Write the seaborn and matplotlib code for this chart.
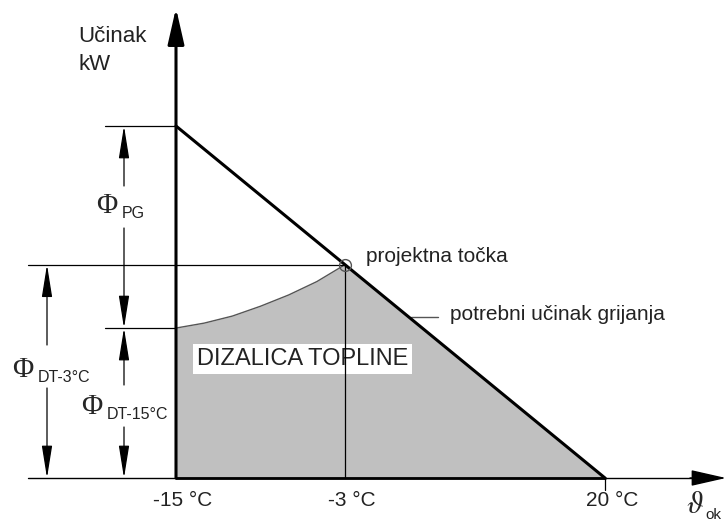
import numpy as np
import matplotlib
matplotlib.use("Agg")
import matplotlib.pyplot as plt
import seaborn as sns
import pandas as pd

# ============================
# DATA
# ============================
temp_ticks = [-15, -3, 20]
tick_labels = ["-15 °C", "-3 °C", "20 °C"]

# potrebni ucinak grijanja (kW) vs vanjska temperatura
demand_temp = [-15, -3, 20]
demand_kw = [10.0, 6.06, 0.0]

# ucinak dizalice topline (kW)
hp_temp = [-15, -13, -11, -9, -7, -5, -3]
hp_kw = [4.26, 4.40, 4.60, 4.88, 5.20, 5.58, 6.06]

# ============================
# LAYOUT (schematic, non-linear temperature axis)
# ============================
W, H = 726, 524
X_PIX = [176, 345, 605]          # where the three temperatures sit
Y_ZERO_PIX = 478
PX_PER_KW = 35.2

T_KNOTS = [-60] + temp_ticks + [80]
U_KNOTS = [176 - 45 * 169 / 12] + X_PIX + [605 + 60 * 260 / 23]


def fwd(t):
    return np.interp(np.asarray(t, float), T_KNOTS, U_KNOTS)


def inv(u):
    return np.interp(np.asarray(u, float), U_KNOTS, T_KNOTS)


def tx(xp):
    return float(inv(xp))


def ky(yp):
    return (Y_ZERO_PIX - yp) / PX_PER_KW


sns.set_style("white")
plt.rcParams["font.family"] = ["Liberation Sans", "DejaVu Sans"]
plt.rcParams["mathtext.fontset"] = "stix"

fig = plt.figure(figsize=(W / 100, H / 100), dpi=100)
ax = fig.add_axes([0, 0, 1, 1])
ax.set_xscale("function", functions=(fwd, inv))

df_dem = pd.DataFrame({"temp": demand_temp, "kw": demand_kw})
df_hp = pd.DataFrame({"temp": hp_temp, "kw": hp_kw})

# shaded area covered by the heat pump
fill_t = hp_temp + demand_temp[2:]
fill_k = hp_kw + demand_kw[2:]
ax.fill_between(fill_t, 0, fill_k, color="#c0c0c0", lw=0, zorder=1)

sns.lineplot(data=df_hp, x="temp", y="kw", color="#555555", lw=1.0,
             errorbar=None, legend=False, ax=ax, zorder=2)
sns.lineplot(data=df_dem, x="temp", y="kw", color="black", lw=2.2,
             errorbar=None, legend=False, ax=ax, zorder=5)

thin = dict(color="black", lw=0.9, zorder=4)
# horizontal guide lines
ax.plot([tx(105), demand_temp[0]], [demand_kw[0]] * 2, **thin)
ax.plot([tx(28), demand_temp[1]], [demand_kw[1]] * 2, **thin)
ax.plot([tx(105), hp_temp[0]], [hp_kw[0]] * 2, **thin)
# vertical at design temperature
ax.plot([demand_temp[1]] * 2, [0, demand_kw[1]], **thin)
# tick at 20 °C
ax.plot([demand_temp[2]] * 2, [0, ky(490)], **thin)

# x axis
ax.plot([tx(28), tx(700)], [0, 0], color="black", lw=1.0, zorder=4)
ax.plot([demand_temp[0], demand_temp[2]], [0, 0], color="black", lw=2.0, zorder=5)
ax.annotate("", xy=(tx(726), 0), xytext=(tx(690), 0),
            arrowprops=dict(arrowstyle="-|>,head_length=1.1,head_width=0.25",
                            color="black", lw=1.0, mutation_scale=20,
                            shrinkA=0, shrinkB=0), zorder=6)
# y axis
ax.annotate("", xy=(temp_ticks[0], ky(8)), xytext=(temp_ticks[0], 0),
            arrowprops=dict(arrowstyle="-|>,head_length=1.1,head_width=0.25",
                            color="black", lw=2.2, mutation_scale=20,
                            shrinkA=0, shrinkB=0), zorder=6)

# design point
ax.plot(demand_temp[1], demand_kw[1], marker="o", ms=8.5, mfc="none",
        mec="#555555", mew=1.0, zorder=6)


def dim_arrow(x, y_from, y_to):
    ax.annotate("", xy=(x, y_to), xytext=(x, y_from),
                arrowprops=dict(arrowstyle="-|>,head_length=1.0,head_width=0.16",
                                color="black", lw=0.9, mutation_scale=20,
                                shrinkA=0, shrinkB=0), zorder=6)


# dimension arrows
dim_arrow(tx(124), ky(186), demand_kw[0])
dim_arrow(tx(124), ky(228), hp_kw[0])
dim_arrow(tx(47), ky(345), demand_kw[1])
dim_arrow(tx(47), ky(388), 0)
dim_arrow(tx(124), ky(385), hp_kw[0])
dim_arrow(tx(124), ky(427), 0)


def phi_label(xp, yp, sub):
    ax.text(tx(xp), ky(yp), "Φ", family=["Liberation Serif", "DejaVu Serif"],
            fontsize=21, ha="left", va="baseline")
    ax.text(tx(xp + 26), ky(yp + 5), sub, fontsize=11.5, ha="left",
            va="baseline", color="#222222")


phi_label(96, 213, "PG")
phi_label(12, 377, "DT-3°C")
phi_label(81, 414, "DT-15°C")

# axis labels
ax.text(tx(78), ky(42), "Učinak", fontsize=16, ha="left", va="baseline", color="#222222")
ax.text(tx(78), ky(70), "kW", fontsize=16, ha="left", va="baseline", color="#222222")
ax.text(tx(686), ky(513), r"$\vartheta$", fontsize=22, ha="left", va="baseline")
ax.text(tx(705), ky(519), "ok", fontsize=11, ha="left", va="baseline", color="#222222")

for t, lab in zip(temp_ticks, tick_labels):
    ax.annotate(lab, xy=(t, ky(500)), xytext=(5, 0), textcoords="offset points",
                fontsize=15, ha="center", va="center", color="#222222")

# annotations
ax.text(tx(366), ky(262), "projektna točka", fontsize=15, ha="left",
        va="baseline", color="#222222")
ax.plot([tx(411), tx(438)], [ky(317)] * 2, color="#555555", lw=1.0, zorder=4)
ax.text(tx(450), ky(320), "potrebni učinak grijanja", fontsize=15, ha="left",
        va="baseline", color="#222222")
ax.text(tx(197), ky(359), "DIZALICA TOPLINE", fontsize=17, ha="left",
        va="center", color="#222222", zorder=3,
        bbox=dict(facecolor="white", edgecolor="none", pad=2.5))

ax.set_xlim(tx(0), tx(W))
ax.set_ylim(ky(H), ky(0))
ax.axis("off")

plt.savefig("out.png", dpi=100)
plt.close()
